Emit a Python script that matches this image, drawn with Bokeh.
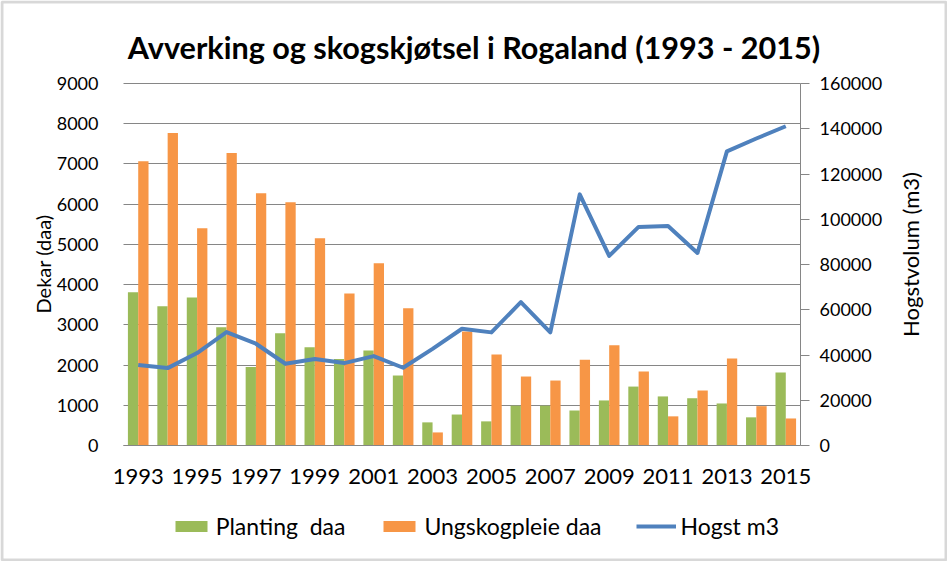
import math
from bokeh.plotting import figure
from bokeh.models import (Range1d, LinearAxis, FixedTicker, NumeralTickFormatter, Label,
                          Legend, LegendItem, ColumnDataSource, BoxAnnotation)
from bokeh.transform import dodge
from bokeh.embed import file_html
from bokeh.resources import INLINE

# ---- data ----
years = list(range(1993, 2016))
planting = [3810, 3460, 3680, 2940, 1950, 2790, 2440, 2150, 2360, 1740, 575, 770,
            600, 990, 990, 870, 1120, 1465, 1220, 1175, 1045, 700, 1815]
ungskog = [7070, 7770, 5400, 7270, 6270, 6045, 5150, 3780, 4530, 3410, 325, 2835,
           2265, 1715, 1615, 2135, 2490, 1840, 725, 1367, 2165, 978, 672]
hogst = [35540, 34210, 40850, 50140, 44980, 36130, 38190, 36420, 39520, 34360, 42700, 51600,
         50000, 63400, 50000, 111000, 83800, 96600, 97000, 85100, 130000, 135700, 141100]
tick_years = years[::2]
left_ticks = list(range(0, 9001, 1000))
right_ticks = list(range(0, 160001, 20000))

title_text = "Avverking og skogskjøtsel i Rogaland (1993 - 2015)"
left_label = "Dekar (daa)"
right_label = "Hogstvolum (m3)"
series_labels = ["Planting  daa", "Ungskogpleie daa", "Hogst m3"]

# ---- style / layout ----
FONT = "Lato"
GRID = "#868686"
GREEN = "#9BBB59"
ORANGE = "#F79646"
BLUE = "#4F81BD"

W, H = 947, 561
PL, PR, PT, PB = 123, 800, 83, 445          # plot area in canvas pixels
x0, x1 = years[0] - 0.5, years[-1] + 0.5
ymax_l, ymax_r = left_ticks[-1], right_ticks[-1]

ppx = (PR - PL) / (x1 - x0)
x_start = x0 - PL / ppx
x_end = x1 + (W - PR) / ppx
ppy_l = (PB - PT) / ymax_l
ppy_r = (PB - PT) / ymax_r

src = ColumnDataSource(dict(year=years, planting=planting, ungskog=ungskog, hogst=hogst))

p = figure(width=W, height=H, output_backend="svg", toolbar_location=None, title=None,
           x_range=Range1d(x_start, x_end),
           y_range=Range1d(-(H - PB) / ppy_l, ymax_l + PT / ppy_l),
           min_border=0)
p.min_border_left = p.min_border_right = p.min_border_top = p.min_border_bottom = 0
p.extra_y_ranges = {"m3": Range1d(-(H - PB) / ppy_r, ymax_r + PT / ppy_r)}
p.outline_line_color = None
p.background_fill_color = "white"
p.border_fill_color = "white"

xa = p.xaxis[0]
xa.fixed_location = 0
xa.bounds = (x0, x1)
xa.ticker = FixedTicker(ticks=tick_years)
xa.formatter = NumeralTickFormatter(format="0")
xa.major_tick_line_color = None
xa.minor_tick_line_color = None
xa.axis_line_color = GRID
xa.major_label_text_font = FONT
xa.major_label_text_font_size = "22px"
xa.major_label_text_color = "black"
xa.major_label_standoff = 17

ya = p.yaxis[0]
ya.fixed_location = x0
ya.bounds = (0, ymax_l)
ya.ticker = FixedTicker(ticks=left_ticks)
ya.formatter = NumeralTickFormatter(format="0")
ya.axis_line_color = None
ya.major_tick_line_color = None
ya.minor_tick_line_color = None
ya.major_label_text_font = FONT
ya.major_label_text_font_size = "18px"
ya.major_label_text_color = "black"
ya.major_label_standoff = 19

ra = LinearAxis(y_range_name="m3", ticker=FixedTicker(ticks=right_ticks),
                formatter=NumeralTickFormatter(format="0"))
ra.fixed_location = x1
ra.bounds = (0, ymax_r)
ra.axis_line_color = GRID
ra.major_tick_line_color = GRID
ra.major_tick_in = 0
ra.major_tick_out = 9
ra.minor_tick_line_color = None
ra.major_label_text_font = FONT
ra.major_label_text_font_size = "18px"
ra.major_label_text_color = "black"
ra.major_label_standoff = 10
p.add_layout(ra, "right")

p.xgrid.visible = False
p.ygrid.ticker = FixedTicker(ticks=left_ticks)
p.ygrid.grid_line_color = GRID
p.ygrid.grid_line_width = 1
try:
    p.ygrid.cross_bounds = (x0, x1)
except Exception:
    p.ygrid.visible = False
    p.segment(x0=[x0] * len(left_ticks), x1=[x1] * len(left_ticks), y0=left_ticks,
              y1=left_ticks, line_color=GRID, line_width=1, level="underlay")

rg = p.vbar(x=dodge("year", -0.175, range=p.x_range), top="planting", width=0.35,
            source=src, fill_color=GREEN, line_color=None)
ro = p.vbar(x=dodge("year", 0.175, range=p.x_range), top="ungskog", width=0.35,
            source=src, fill_color=ORANGE, line_color=None)
rl = p.line("year", "hogst", source=src, y_range_name="m3", line_width=4,
            line_color=BLUE, line_join="round")

lg = Legend(items=[LegendItem(label=series_labels[0], renderers=[rg]),
                   LegendItem(label=series_labels[1], renderers=[ro]),
                   LegendItem(label=series_labels[2], renderers=[rl])],
            location=(170.7, 21), orientation="horizontal", padding=0, margin=0, spacing=34,
            glyph_width=40, glyph_height=14, label_standoff=5,
            label_text_font=FONT, label_text_font_size="23px", label_text_color="black",
            border_line_color=None, background_fill_alpha=0)
p.add_layout(lg)

p.add_layout(Label(x=W / 2, y=H - 47.3, x_units="screen", y_units="screen", text=title_text,
                   text_font=FONT, text_font_style="bold", text_font_size="30.6px",
                   text_align="center", text_baseline="alphabetic", text_color="black"))
p.add_layout(Label(x=42.5, y=H - 263.5, x_units="screen", y_units="screen", text=left_label,
                   angle=math.pi / 2, text_font=FONT, text_font_size="20px",
                   text_align="center", text_baseline="middle", text_color="black"))
p.add_layout(Label(x=910, y=H - 254, x_units="screen", y_units="screen", text=right_label,
                   angle=math.pi / 2, text_font=FONT, text_font_size="22px",
                   text_align="center", text_baseline="middle", text_color="black"))

p.add_layout(BoxAnnotation(left=1.5, right=W - 1.5, bottom=1.5, top=H - 1.5,
                           left_units="screen", right_units="screen",
                           bottom_units="screen", top_units="screen",
                           fill_alpha=0, line_color="#7f7f7f", line_width=3))

open("out.html", "w").write(file_html(p, INLINE))
